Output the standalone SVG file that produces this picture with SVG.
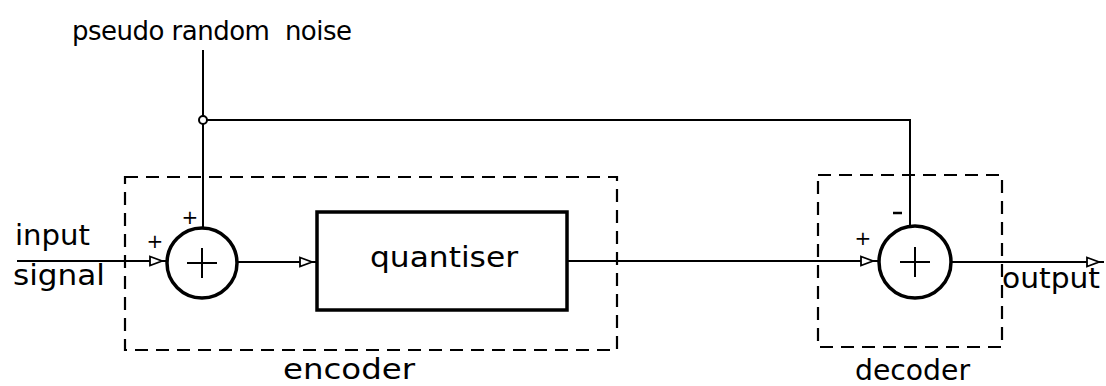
<svg xmlns="http://www.w3.org/2000/svg" width="1106" height="386" viewBox="0 0 1106 386">
  <defs>
    <style>
      text { font-family: "DejaVu Sans", "Liberation Sans", sans-serif; fill: #000; }
      .lbl { font-size: 28px; }
      .top { font-size: 26px; }
      .sign { font-size: 20px; }
      .wire { stroke: #000; stroke-width: 2; fill: none; }
      .dash { stroke: #000; stroke-width: 2.2; fill: none; stroke-dasharray: 13 8; }
      .sum { stroke: #000; stroke-width: 3.5; fill: #fff; }
      .cross { stroke: #000; stroke-width: 2; }
      .block { stroke: #000; stroke-width: 3.5; fill: #fff; }
    </style>
    <marker id="arr" viewBox="0 0 18 12" refX="18" refY="6" markerWidth="18" markerHeight="12" markerUnits="userSpaceOnUse" orient="auto">
      <path d="M1,1.5 L13,6 L1,10.5 Z" fill="#fff" stroke="#000" stroke-width="1.8"/>
      <path d="M13,6 L18,6" stroke="#000" stroke-width="1.8"/>
    </marker>
  </defs>

  <g id="encoder">
    <rect class="dash" x="125" y="177" width="492" height="173"/>
    <text class="lbl" x="283" y="379" textLength="132" lengthAdjust="spacingAndGlyphs">encoder</text>
  </g>
  <g id="decoder">
    <rect class="dash" x="818" y="175" width="184" height="172"/>
    <text class="lbl" x="855" y="380" textLength="115" lengthAdjust="spacingAndGlyphs">decoder</text>
  </g>

  <g id="connectors">
    <path class="wire" d="M203,50 V228"/>
    <path class="wire" d="M207,120 H910 V226"/>
    <path class="wire" d="M17,261 H167" marker-end="url(#arr)"/>
    <path class="wire" d="M237,262 H317" marker-end="url(#arr)"/>
    <path class="wire" d="M567,261 H878" marker-end="url(#arr)"/>
    <path class="wire" d="M950,262 H1104" marker-end="url(#arr)"/>
    <circle cx="203" cy="120" r="4" fill="#fff" stroke="#000" stroke-width="2"/>
  </g>

  <g id="noise-source">
    <text class="top" x="72" y="40" textLength="280" lengthAdjust="spacing" xml:space="preserve">pseudo random  noise</text>
  </g>

  <g id="input">
    <text class="lbl" x="15" y="245" textLength="75" lengthAdjust="spacingAndGlyphs">input</text>
    <text class="lbl" x="13" y="285" textLength="92" lengthAdjust="spacingAndGlyphs">signal</text>
  </g>

  <g id="adder-encoder">
    <circle class="sum" cx="202" cy="263" r="35"/>
    <path class="cross" d="M187,263 H217 M202,248 V278"/>
    <text class="sign" x="155" y="248" text-anchor="middle">+</text>
    <text class="sign" x="190" y="224" text-anchor="middle">+</text>
  </g>

  <g id="quantiser">
    <rect class="block" x="317" y="212" width="250" height="98"/>
    <text class="lbl" x="370" y="267" textLength="148" lengthAdjust="spacingAndGlyphs">quantiser</text>
  </g>

  <g id="adder-decoder">
    <circle class="sum" cx="915" cy="262" r="36"/>
    <path class="cross" d="M900,262 H930 M915,247 V277"/>
    <text class="sign" x="863" y="245" text-anchor="middle">+</text>
    <path d="M893,213 H902" stroke="#000" stroke-width="2.5"/>
  </g>

  <g id="output">
    <text class="lbl" x="1002" y="288" textLength="98" lengthAdjust="spacingAndGlyphs">output</text>
  </g>
</svg>
